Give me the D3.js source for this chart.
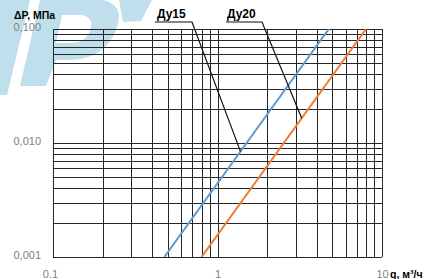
<!DOCTYPE html>
<html>
<head>
<meta charset="utf-8">
<script src="https://cdn.jsdelivr.net/npm/d3@7"></script>
<style>
  body { margin: 0; background: #fff; }
  text { font-family: "Liberation Sans", Arial, sans-serif; }
  .tick text { fill: #7f7f7f; font-size: 11px; }
  .grid line { stroke: #262626; stroke-width: 1; shape-rendering: crispEdges; }
  .grid .domain { display: none; }
  .title { font-weight: bold; font-size: 10.5px; fill: #000; }
  .lbl { font-weight: bold; font-size: 12px; fill: #000; }
</style>
</head>
<body>
<div id="chart"></div>
<script>
'use strict';

// flow q, m3/h (log axis)
const qTicks = [0.1, 1, 10];
const qTickLabels = ['0.1', '1', '10'];
const qMinor = [0.2, 0.3, 0.4, 0.5, 0.6, 0.7, 0.8, 0.9, 1, 2, 3, 4, 5, 6, 7, 8, 9, 10];

// pressure drop, MPa (log axis)
const dpTicks = [0.001, 0.01, 0.1];
const dpTickLabels = ['0,001', '0,010', '0,100'];
const dpMinor = [0.002, 0.003, 0.004, 0.005, 0.006, 0.007, 0.008, 0.009, 0.01,
                 0.02, 0.03, 0.04, 0.05, 0.06, 0.07, 0.08, 0.09, 0.1];

// series [q, dp]
const du15 = [[0.475, 0.001], [4.75, 0.1]];
const du20 = [[0.8, 0.001], [8.0, 0.1]];

// annotation anchors on the lines [q, dp]
const du15Anchor = [1.38, 0.0084];
const du20Anchor = [3.25, 0.0165];

const W = 430;
const H = 279;
const margin = { top: 29, right: 48, bottom: 22, left: 53 };
const width = W - margin.left - margin.right;
const height = H - margin.top - margin.bottom;

const svg = d3.select('#chart')
  .append('svg')
  .attr('width', W)
  .attr('height', H);

// watermark
const wm = svg.append('g').attr('fill', '#c0dfec');
wm.append('path').attr('d', 'M0,0 L30,0 L7,95 L0,95 Z');
wm.append('path')
  .attr('fill-rule', 'evenodd')
  .attr('d', 'M40,0 L102,0 Q126,4 116,30 Q105,58 72,60 L56,60 L46,86 L20,86 Z ' +
             'M62,15 L82,15 Q95,18 90,31 Q85,43 70,43 L56,43 Z');
wm.append('path').attr('d', 'M119,0 L152,0 L141,21 L123,22 Z');

const chart = svg.append('g')
  .attr('transform', `translate(${margin.left}, ${margin.top})`);

const x = d3.scaleLog().domain([0.1, 10]).range([0, width]);
const y = d3.scaleLog().domain([0.001, 0.1]).range([height, 0]);

// grid
chart.append('g')
  .attr('class', 'grid')
  .attr('transform', `translate(0, ${height})`)
  .call(d3.axisBottom(x).tickValues(qMinor.concat([0.1])).tickSize(height).tickFormat(''))
  .call(g => g.selectAll('line').attr('y2', -height));

chart.append('g')
  .attr('class', 'grid')
  .call(d3.axisLeft(y).tickValues(dpMinor.concat([0.001])).tickSize(-width).tickFormat(''));

// tick labels
chart.append('g')
  .attr('transform', `translate(0, ${height})`)
  .call(d3.axisBottom(x).tickValues(qTicks).tickSize(0).tickPadding(13)
    .tickFormat((d, i) => qTickLabels[i]))
  .call(g => g.select('.domain').remove())
  .call(g => g.selectAll('text').attr('dx', (d, i) => i === 0 ? -3 : 0));

chart.append('g')
  .call(d3.axisLeft(y).tickValues(dpTicks).tickSize(0).tickPadding(12)
    .tickFormat((d, i) => dpTickLabels[i]))
  .call(g => g.select('.domain').remove())
  .call(g => g.selectAll('text').attr('dy', '0.1em'));

// series
svg.append('clipPath').attr('id', 'plot')
  .append('rect').attr('x', 0).attr('y', 0).attr('width', width).attr('height', height);

const line = d3.line().x(d => x(d[0])).y(d => y(d[1]));
const lines = chart.append('g').attr('clip-path', 'url(#plot)');
lines.append('path').datum(du15).attr('d', line)
  .attr('fill', 'none').attr('stroke', '#5b9bd5').attr('stroke-width', 2);
lines.append('path').datum(du20).attr('d', line)
  .attr('fill', 'none').attr('stroke', '#ed7d31').attr('stroke-width', 2);

// callouts
const callouts = [
  { text: 'Ду15', tx: 157, x0: 155, x1: 192, anchor: du15Anchor },
  { text: 'Ду20', tx: 227, x0: 226, x1: 262, anchor: du20Anchor },
];
callouts.forEach(c => {
  const ax = margin.left + x(c.anchor[0]);
  const ay = margin.top + y(c.anchor[1]);
  svg.append('polyline')
    .attr('points', `${c.x0},22 ${c.x1},22 ${ax},${ay}`)
    .attr('fill', 'none')
    .attr('stroke', '#111')
    .attr('stroke-width', 1.2);
  svg.append('text').attr('class', 'lbl')
    .attr('x', c.tx).attr('y', 18).text(c.text);
});

// axis titles
svg.append('text').attr('class', 'title')
  .attr('x', 14).attr('y', 19).text('ΔP, МПа');
svg.append('text').attr('class', 'title')
  .attr('x', 390).attr('y', 278).text('q, м³/ч');
</script>
</body>
</html>
